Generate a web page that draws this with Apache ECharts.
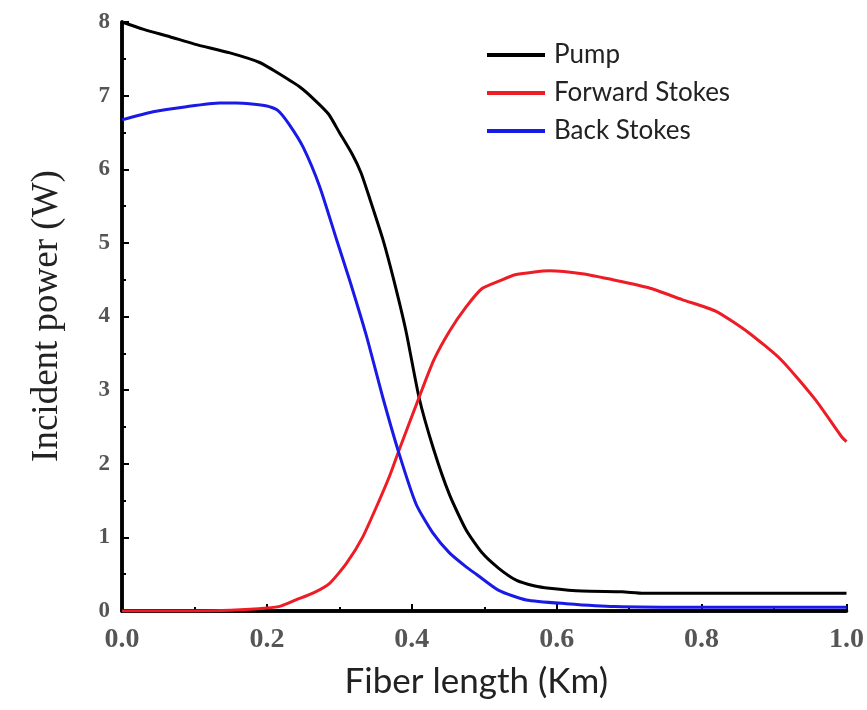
<!DOCTYPE html>
<html>
<head>
<meta charset="utf-8">
<script src="https://cdn.jsdelivr.net/npm/echarts@6/dist/echarts.min.js"></script>
<style>html,body{margin:0;padding:0;background:#fff}#c{width:867px;height:710px}</style>
</head>
<body>
<div id="c"></div>
<script>
const pumpX = [0, 0.03, 0.066, 0.1, 0.149, 0.19, 0.213, 0.245, 0.265, 0.285, 0.3, 0.318, 0.33, 0.342, 0.36, 0.375, 0.392, 0.41, 0.43, 0.452, 0.475, 0.497, 0.52, 0.544, 0.57, 0.59, 0.635, 0.69, 0.72, 0.8, 0.9, 1.0];
const pumpY = [8.0, 7.9, 7.8, 7.7, 7.58, 7.45, 7.32, 7.12, 6.95, 6.75, 6.5, 6.2, 5.95, 5.6, 5.05, 4.5, 3.8, 2.9, 2.2, 1.58, 1.1, 0.79, 0.58, 0.42, 0.34, 0.31, 0.27, 0.26, 0.24, 0.24, 0.24, 0.24];

const fwdX = [0, 0.1, 0.15, 0.2, 0.22, 0.24, 0.265, 0.287, 0.31, 0.332, 0.355, 0.37, 0.383, 0.41, 0.43, 0.452, 0.475, 0.497, 0.52, 0.544, 0.59, 0.635, 0.682, 0.727, 0.773, 0.82, 0.865, 0.91, 0.957, 0.993, 1.0];
const fwdY = [0, 0, 0.01, 0.04, 0.07, 0.15, 0.25, 0.38, 0.65, 1.0, 1.5, 1.85, 2.2, 2.9, 3.4, 3.8, 4.13, 4.38, 4.48, 4.57, 4.62, 4.58, 4.49, 4.39, 4.23, 4.07, 3.78, 3.41, 2.87, 2.37, 2.3];

const backX = [0, 0.043, 0.089, 0.135, 0.158, 0.2, 0.215, 0.23, 0.25, 0.273, 0.296, 0.314, 0.337, 0.36, 0.383, 0.406, 0.429, 0.452, 0.475, 0.489, 0.52, 0.558, 0.613, 0.68, 0.8, 1.0];
const backY = [6.67, 6.78, 6.85, 6.9, 6.9, 6.86, 6.8, 6.62, 6.3, 5.76, 5.05, 4.5, 3.75, 2.9, 2.12, 1.45, 1.06, 0.79, 0.6, 0.5, 0.28, 0.15, 0.1, 0.06, 0.05, 0.05];

const seriesNames = ['Pump', 'Forward Stokes', 'Back Stokes'];
const seriesColors = ['#000000', '#ee1c25', '#1a1ae6'];
const xName = 'Fiber length (Km)';
const yName = 'Incident power (W)';

function pairs(xs, ys) { return xs.map((x, i) => [x, ys[i]]); }

const chart = echarts.init(document.getElementById('c'), null, {renderer: 'canvas'});
chart.setOption({
  animation: false,
  backgroundColor: '#fff',
  grid: {left: 122, right: 19, top: 22, bottom: 99, containLabel: false},
  legend: {
    orient: 'vertical', left: 482, top: 37,
    icon: 'rect', itemWidth: 58, itemHeight: 4, itemGap: 12,
    textStyle: {fontFamily: 'Lato', fontSize: 26, lineHeight: 25, color: '#222', padding: [0, 0, 0, 4]},
    data: seriesNames
  },
  graphic: [{
    type: 'text', x: 47, y: 316, rotation: Math.PI / 2,
    style: {text: yName, fontFamily: 'Liberation Serif', fontSize: 37, fill: '#222', align: 'center', verticalAlign: 'middle'}
  }],
  xAxis: [{
    type: 'value', min: 0, max: 1, interval: 0.2,
    name: xName, nameLocation: 'middle', nameGap: 53, nameMoveOverlap: false,
    nameTextStyle: {fontFamily: 'Lato', fontSize: 35, color: '#222', padding: [0, 16, 0, 0]},
    axisLine: {show: true, lineStyle: {color: '#000', width: 3.5}},
    axisTick: {show: true, inside: true, length: 7, lineStyle: {color: '#000', width: 2}},
    minorTick: {show: true, splitNumber: 2, length: 4, lineStyle: {color: '#000', width: 2}},
    axisLabel: {margin: 15, formatter: v => v.toFixed(1), fontFamily: 'Liberation Serif', fontWeight: 'bold', fontSize: 28, color: '#555'},
    splitLine: {show: false}
  }, {
    type: 'value', min: 0, max: 1, position: 'top',
    axisLine: {show: true, lineStyle: {color: '#000', width: 3.5}},
    axisTick: {show: false}, axisLabel: {show: false}, splitLine: {show: false}
  }],
  yAxis: [{
    type: 'value', min: 0, max: 8, interval: 1,
    axisLine: {show: true, lineStyle: {color: '#000', width: 3.5}},
    axisTick: {show: true, inside: true, length: 7, lineStyle: {color: '#000', width: 2}},
    minorTick: {show: true, splitNumber: 2, length: 4, lineStyle: {color: '#000', width: 2}},
    axisLabel: {margin: 12, fontFamily: 'Liberation Serif', fontWeight: 'bold', fontSize: 23, color: '#555'},
    splitLine: {show: false}
  }, {
    type: 'value', min: 0, max: 8, position: 'right',
    axisLine: {show: true, lineStyle: {color: '#000', width: 3.5}},
    axisTick: {show: false}, axisLabel: {show: false}, splitLine: {show: false}
  }],
  series: [
    {name: seriesNames[0], type: 'line', data: pairs(pumpX, pumpY), showSymbol: false, smooth: 0.2,
     lineStyle: {color: seriesColors[0], width: 3}, itemStyle: {color: seriesColors[0]}},
    {name: seriesNames[1], type: 'line', data: pairs(fwdX, fwdY), showSymbol: false, smooth: 0.2,
     lineStyle: {color: seriesColors[1], width: 3}, itemStyle: {color: seriesColors[1]}},
    {name: seriesNames[2], type: 'line', data: pairs(backX, backY), showSymbol: false, smooth: 0.2,
     lineStyle: {color: seriesColors[2], width: 3}, itemStyle: {color: seriesColors[2]}}
  ]
});
</script>
</body>
</html>
